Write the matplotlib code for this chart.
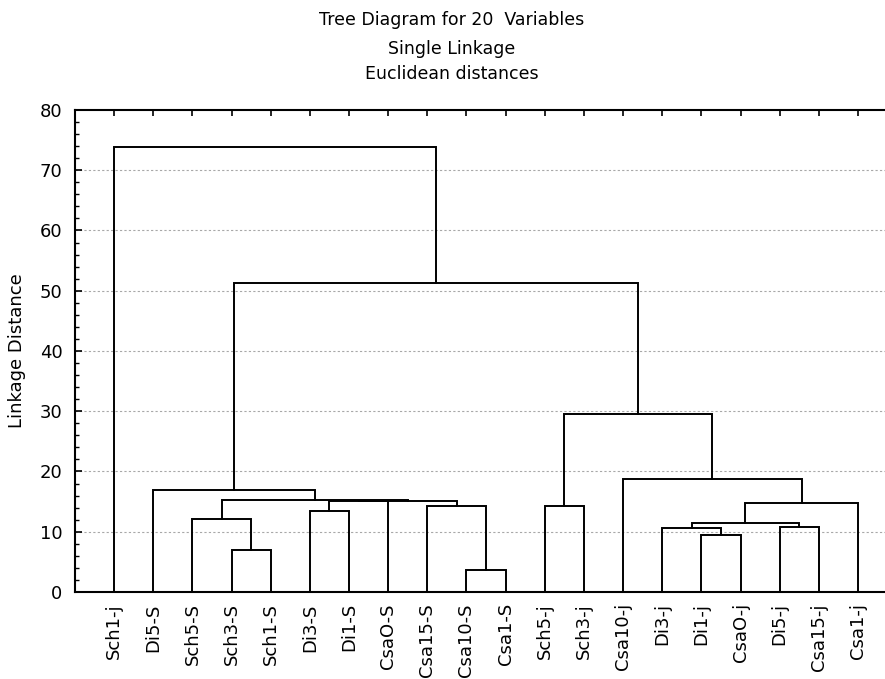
import matplotlib
matplotlib.use('Agg')
import matplotlib.pyplot as plt
from matplotlib.ticker import MultipleLocator

# leaves in dendrogram order
leaf_labels = ['Sch1-j', 'Di5-S', 'Sch5-S', 'Sch3-S', 'Sch1-S', 'Di3-S', 'Di1-S',
               'CsaO-S', 'Csa15-S', 'Csa10-S', 'Csa1-S', 'Sch5-j', 'Sch3-j',
               'Csa10-j', 'Di3-j', 'Di1-j', 'CsaO-j', 'Di5-j', 'Csa15-j', 'Csa1-j']

# single linkage joins: children (leaf index or 20 + join index) and distance
merge_left = [9, 3, 15, 14, 17, 23, 2, 5, 11, 8, 27, 30, 26, 25, 1, 13, 28, 34, 0]
merge_right = [10, 4, 16, 22, 18, 24, 21, 6, 12, 20, 7, 29, 31, 19, 32, 33, 35, 36, 37]
merge_height = [3.6, 6.9, 9.4, 10.7, 10.8, 11.4, 12.1, 13.4, 14.2, 14.2,
                15.1, 15.15, 15.35, 14.8, 17.0, 18.8, 29.5, 51.3, 73.8]

n = len(leaf_labels)
xpos = {i: i + 1 for i in range(n)}
ypos = {i: 0.0 for i in range(n)}

fig = plt.figure(figsize=(8.85, 6.79), dpi=100)
ax = fig.add_axes([0.0847, 0.1281, 0.929, 0.710])

for k, (a, b, h) in enumerate(zip(merge_left, merge_right, merge_height)):
    xa, xb = xpos[a], xpos[b]
    ax.plot([xa, xa, xb, xb], [ypos[a], h, h, ypos[b]], color='black',
            linewidth=1.4, solid_joinstyle='miter', zorder=3)
    xpos[n + k] = (xa + xb) / 2
    ypos[n + k] = h

ax.set_xlim(0, 21)
ax.set_ylim(0, 80)

for y in range(10, 80, 10):
    ax.axhline(y, color='#a8a8a8', linestyle=(0, (2, 2)), linewidth=0.8, zorder=1)

ax.set_xticks(range(1, n + 1))
ax.set_xticklabels(leaf_labels, rotation=90, fontsize=13)
ax.tick_params(axis='x', bottom=False, top=True, labelbottom=True,
               direction='in', length=4, width=1.2, pad=8)

ax.yaxis.set_major_locator(MultipleLocator(10))
ax.yaxis.set_minor_locator(MultipleLocator(2))
ax.tick_params(axis='y', which='major', direction='in', length=5, width=1.2,
               labelsize=13, pad=9)
ax.tick_params(axis='y', which='minor', direction='in', length=3, width=1.0)
ax.set_ylabel('Linkage Distance', fontsize=13, labelpad=10)

ax.spines['right'].set_visible(False)
for side in ['left', 'top', 'bottom']:
    ax.spines[side].set_linewidth(1.5)

fig.text(0.510, 0.963, 'Tree Diagram for 20  Variables', ha='center', va='baseline', fontsize=12.5)
fig.text(0.510, 0.920, 'Single Linkage', ha='center', va='baseline', fontsize=12.5)
fig.text(0.510, 0.884, 'Euclidean distances', ha='center', va='baseline', fontsize=12.5)

fig.savefig('out.png', dpi=100)
